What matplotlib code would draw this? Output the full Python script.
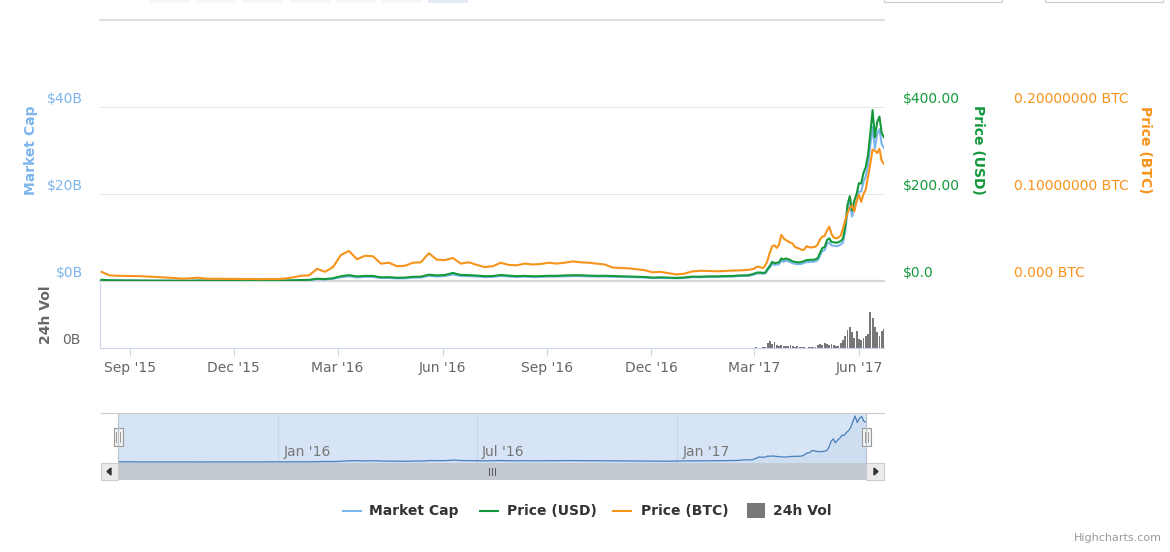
import numpy as np
import pandas as pd

import matplotlib
matplotlib.use('Agg')
import matplotlib.pyplot as plt
import matplotlib.dates as mdates
import matplotlib.transforms as mtrans
from matplotlib.patches import Rectangle, Polygon
from matplotlib.lines import Line2D

W, H = 1170, 552

# weekly samples, 7 Aug 2015 .. 24 Feb 2017
early_usd = [2.80, 1.80, 1.45, 1.25, 1.30, 1.00, 0.90, 0.80, 0.70, 0.62,
             0.55, 0.60, 1.05, 0.95, 0.92, 0.95, 0.90, 0.85, 0.88, 0.92,
             0.88, 0.95, 0.98, 1.25, 1.65, 2.40, 2.55, 5.20, 4.40, 6.40,
             11.0, 13.5, 10.5, 11.8, 11.6, 8.5, 8.8, 7.5, 7.8, 9.6,
             10.0, 14.5, 12.8, 13.8, 18.5, 14.0, 13.5, 12.5, 11.0, 11.4,
             13.8, 12.5, 11.0, 11.8, 10.9, 11.1, 12.0, 11.9, 12.8, 13.2,
             13.2, 12.4, 11.9, 12.0, 11.5, 10.9, 10.3, 9.8, 9.2, 7.8,
             8.3, 7.7, 7.2, 8.0, 10.0, 9.8, 10.6, 10.6, 11.2, 11.5,
             12.8, 13.2]
early_btc = [0.0105, 0.0065, 0.0060, 0.0058, 0.0055, 0.0055, 0.0050, 0.0045, 0.0040, 0.0035,
             0.0027, 0.0030, 0.0038, 0.0028, 0.0025, 0.0026, 0.0024, 0.0024, 0.0022, 0.0023,
             0.0021, 0.0023, 0.0022, 0.0028, 0.0042, 0.0060, 0.0065, 0.0140, 0.0105, 0.0160,
             0.0300, 0.0345, 0.0250, 0.0290, 0.0285, 0.0200, 0.0210, 0.0170, 0.0175, 0.0210,
             0.0215, 0.0320, 0.0245, 0.0240, 0.0265, 0.0200, 0.0215, 0.0185, 0.0160, 0.0170,
             0.0210, 0.0185, 0.0180, 0.0200, 0.0190, 0.0195, 0.0210, 0.0200, 0.0210, 0.0225,
             0.0215, 0.0210, 0.0200, 0.0190, 0.0155, 0.0150, 0.0145, 0.0135, 0.0125, 0.0100,
             0.0105, 0.0090, 0.0075, 0.0085, 0.0110, 0.0118, 0.0115, 0.0112, 0.0115, 0.0120,
             0.0122, 0.0128]
early_cap = [0.202, 0.131, 0.105, 0.091, 0.095, 0.074, 0.066, 0.059, 0.052, 0.046,
             0.041, 0.045, 0.079, 0.072, 0.070, 0.072, 0.069, 0.065, 0.067, 0.071,
             0.068, 0.074, 0.076, 0.097, 0.129, 0.188, 0.200, 0.409, 0.347, 0.506,
             0.871, 1.072, 0.836, 0.942, 0.928, 0.682, 0.708, 0.605, 0.630, 0.778,
             0.812, 1.180, 1.044, 1.129, 1.517, 1.151, 1.112, 1.033, 0.911, 0.946,
             1.148, 1.043, 0.920, 0.989, 0.916, 0.935, 1.013, 1.007, 1.085, 1.122,
             1.125, 1.059, 1.019, 1.030, 0.989, 0.940, 0.890, 0.849, 0.799, 0.679,
             0.724, 0.673, 0.631, 0.702, 0.880, 0.864, 0.937, 0.939, 0.995, 1.024,
             1.142, 1.180]

# every second day, 1 Mar 2017 .. 23 Jun 2017
late_usd = [16.5, 19.0, 19.5, 19.5, 18.5, 19.5, 28.0, 35.0, 44.0, 41.0,
            42.0, 43.0, 52.0, 49.0, 52.0, 50.0, 48.0, 45.0, 44.0, 43.0,
            43.0, 44.0, 46.0, 48.0, 48.0, 49.0, 48.5, 50.0, 53.0, 65.0,
            76.0, 78.0, 94.0, 98.0, 90.0, 89.0, 88.0, 89.0, 92.0, 97.0,
            125.0, 175.0, 195.0, 162.0, 185.0, 200.0, 225.0, 224.0, 248.0, 262.0,
            290.0, 340.0, 393.0, 330.0, 365.0, 378.0, 340.0, 330.0]
late_btc = [0.0140, 0.0160, 0.0165, 0.0155, 0.0150, 0.0180, 0.0240, 0.0330, 0.0400, 0.0410,
            0.0380, 0.0420, 0.0530, 0.0490, 0.0470, 0.0455, 0.0440, 0.0430, 0.0390, 0.0380,
            0.0370, 0.0356, 0.0360, 0.0400, 0.0390, 0.0385, 0.0390, 0.0395, 0.0420, 0.0480,
            0.0510, 0.0520, 0.0580, 0.0625, 0.0540, 0.0500, 0.0490, 0.0500, 0.0520, 0.0600,
            0.0700, 0.0780, 0.0840, 0.0870, 0.0800, 0.0920, 0.0990, 0.0910, 0.1000, 0.1050,
            0.1200, 0.1350, 0.1510, 0.1500, 0.1470, 0.1520, 0.1380, 0.1350]
late_cap = [1.48, 1.70, 1.75, 1.75, 1.66, 1.75, 2.51, 3.14, 3.95, 3.68,
            3.77, 3.86, 4.68, 4.41, 4.68, 4.50, 4.33, 4.06, 3.97, 3.88,
            3.88, 3.97, 4.15, 4.34, 4.34, 4.43, 4.39, 4.53, 4.80, 5.89,
            6.89, 7.08, 8.53, 8.90, 8.18, 8.09, 8.01, 8.10, 8.38, 8.84,
            11.40, 15.97, 17.81, 14.80, 16.91, 18.30, 20.61, 20.53, 22.75, 24.05,
            26.65, 31.28, 35.40, 30.42, 33.69, 34.92, 31.45, 30.55]
late_vol = [0.03, 0.04, 0.03, 0.03, 0.04, 0.05, 0.35, 0.55, 0.30, 0.45,
            0.20, 0.15, 0.25, 0.15, 0.18, 0.12, 0.20, 0.12, 0.10, 0.15,
            0.08, 0.05, 0.04, 0.03, 0.06, 0.04, 0.04, 0.05, 0.25, 0.30,
            0.20, 0.35, 0.30, 0.25, 0.30, 0.20, 0.15, 0.18, 0.35, 0.60,
            0.90, 1.40, 1.60, 1.20, 0.80, 1.30, 0.70, 0.60, 0.80, 0.90,
            1.10, 2.80, 2.30, 1.60, 1.20, 0.90, 1.30, 1.50]

early_dates = pd.date_range('2015-08-07', periods=len(early_usd), freq='7D')
late_dates = pd.date_range('2017-03-01', periods=len(late_usd), freq='2D')
dates = early_dates.append(late_dates)
usd = np.array(early_usd + late_usd)
btc = np.array(early_btc + late_btc)
cap = np.array(early_cap + late_cap)

CAP_C = '#7cb5ec'
USD_C = '#13993c'
BTC_C = '#f7931a'
VOL_C = '#777777'
AXIS_C = '#ccd6eb'

plt.rcParams['font.family'] = 'DejaVu Sans'
fig = plt.figure(figsize=(W / 100, H / 100), dpi=100)


def box(x0, y0, x1, y1):
    return [x0 / W, 1 - y1 / H, (x1 - x0) / W, (y1 - y0) / H]


def rect(x0, y0, x1, y1, **kw):
    fig.add_artist(Rectangle((x0 / W, 1 - y1 / H), (x1 - x0) / W, (y1 - y0) / H,
                             transform=fig.transFigure, **kw))


def hline(x0, x1, y, **kw):
    fig.add_artist(Line2D([x0 / W, x1 / W], [1 - y / H] * 2, transform=fig.transFigure, **kw))


def vline(x, y0, y1, **kw):
    fig.add_artist(Line2D([x / W] * 2, [1 - y0 / H, 1 - y1 / H], transform=fig.transFigure, **kw))


def strip(a):
    for s in a.spines.values():
        s.set_visible(False)
    a.set_xticks([])
    a.set_yticks([])
    a.patch.set_alpha(0)


xmin = dates[0] - pd.Timedelta(days=1.3)
xmax = dates[-1]

# ---- main pane
ax = fig.add_axes(box(100, 18, 884, 281))
ax_usd = ax.twinx()
ax_btc = ax.twinx()
for a in (ax, ax_usd, ax_btc):
    strip(a)
    a.set_xlim(xmin, xmax)
ax.set_ylim(0, 60.46)
ax_usd.set_ylim(0, 604.6)
ax_btc.set_ylim(0, 0.3023)

for v in (20, 40):
    ax.axhline(v, color='#e6e6e6', lw=0.8, zorder=0)
ax.axhline(60, color='#d8d8d8', lw=1.2, zorder=0, clip_on=False)
ax.axhline(0, color='#d8d8d8', lw=1.6, zorder=0, clip_on=False)

ax.plot(dates, cap, color=CAP_C, lw=1.5, solid_joinstyle='round')
ax_usd.plot(dates, usd, color=USD_C, lw=1.5, solid_joinstyle='round')
ax_btc.plot(dates, btc, color=BTC_C, lw=1.5, solid_joinstyle='round')

# y-axis labels, sitting a few pixels above their gridlines
def ylabels(a, xpx, vals, texts, color, ha):
    tr = mtrans.blended_transform_factory(fig.transFigure, a.transData)
    tr = mtrans.offset_copy(tr, fig=fig, y=8, units='dots')
    for v, t in zip(vals, texts):
        a.text(xpx / W, v, t, transform=tr, ha=ha, va='center', color=color,
               fontsize=10, clip_on=False)

ylabels(ax, 83, [0, 20, 40], ['$0B', '$20B', '$40B'], CAP_C, 'right')
ylabels(ax_usd, 903, [0, 200, 400], ['$0.0', '$200.00', '$400.00'], USD_C, 'left')
ylabels(ax_btc, 1014, [0, 0.1, 0.2], ['0.000 BTC', '0.10000000 BTC', '0.20000000 BTC'],
        BTC_C, 'left')

fig.text(31 / W, 1 - 150 / H, 'Market Cap', rotation=90, ha='center', va='center',
         color=CAP_C, weight='bold', fontsize=10)
fig.text(978 / W, 1 - 150 / H, 'Price (USD)', rotation=270, ha='center', va='center',
         color=USD_C, weight='bold', fontsize=10)
fig.text(1145 / W, 1 - 150 / H, 'Price (BTC)', rotation=270, ha='center', va='center',
         color=BTC_C, weight='bold', fontsize=10)

# ---- volume pane
axv = fig.add_axes(box(100, 283, 884, 348))
axv.patch.set_alpha(0)
axv.bar(late_dates, late_vol, width=1.6, color=VOL_C, linewidth=0)
axv.set_xlim(xmin, xmax)
axv.set_ylim(0, 5)
axv.set_yticks([])
for side in ('top', 'right'):
    axv.spines[side].set_visible(False)
for side in ('left', 'bottom'):
    axv.spines[side].set_color(AXIS_C)
    axv.spines[side].set_linewidth(0.8)
axv.xaxis.set_major_locator(mdates.MonthLocator(bymonth=(3, 6, 9, 12)))
axv.xaxis.set_major_formatter(mdates.DateFormatter("%b '%y"))
axv.tick_params(axis='x', length=6, width=0.8, color=AXIS_C, labelcolor='#666666',
                labelsize=10, pad=3.5)
ylabels(axv, 80, [0], ['0B'], '#666666', 'right')
fig.text(46 / W, 1 - 315 / H, '24h Vol', rotation=90, ha='center', va='center',
         color='#666666', weight='bold', fontsize=10)

# ---- navigator
rect(101, 463, 884, 480, facecolor='#f2f2f2', edgecolor='none')
nav = fig.add_axes(box(118, 413, 866, 463))
nav.set_facecolor('#d6e4f5')
for s in nav.spines.values():
    s.set_visible(False)
nav.set_xlim(dates[0], dates[-1])
nav.set_ylim(-0.75, 37.7)
nav.set_yticks([])
nav.xaxis.set_major_locator(mdates.MonthLocator(bymonth=(1, 7)))
nav.tick_params(axis='x', length=0, labelbottom=False)
nav.grid(axis='x', color='#c9d7ea', lw=0.8)
nav.fill_between(dates, cap, -1, color='#4a7ebb', alpha=0.06, lw=0)
nav.plot(dates, cap, color='#4a7ebb', lw=0.9)
ntr = mtrans.blended_transform_factory(nav.transData, fig.transFigure)
ntr = mtrans.offset_copy(ntr, fig=fig, x=5, units='dots')
for t in mdates.MonthLocator(bymonth=(1, 7)).tick_values(dates[0], dates[-1]):
    nav.text(t, 1 - 452 / H, mdates.num2date(t).strftime("%b '%y"), transform=ntr,
             ha='left', va='center', color='#777777', fontsize=10)

hline(101, 884, 413, color='#cccccc', lw=0.8)
vline(118, 413, 463, color='#b8c2cc', lw=0.8)
vline(866, 413, 463, color='#b8c2cc', lw=0.8)

# scrollbar thumb, buttons, handles
rect(118, 463, 866, 480, facecolor='#c3c9d1', edgecolor='none')
for x in (489, 492, 495):
    vline(x, 468, 475, color='#555555', lw=0.7)
for x0, x1 in ((101, 118), (866, 884)):
    rect(x0, 463, x1, 480, facecolor='#ebebeb', edgecolor='#cccccc', lw=0.8)
fig.add_artist(Polygon([(111 / W, 1 - 468 / H), (111 / W, 1 - 475 / H), (107 / W, 1 - 471.5 / H)],
                       closed=True, transform=fig.transFigure, color='#333333'))
fig.add_artist(Polygon([(874 / W, 1 - 468 / H), (874 / W, 1 - 475 / H), (878 / W, 1 - 471.5 / H)],
                       closed=True, transform=fig.transFigure, color='#333333'))
for xc in (118, 866):
    rect(xc - 4.5, 428, xc + 4.5, 446, facecolor='#f2f2f2', edgecolor='#999999', lw=0.8)
    vline(xc - 1.5, 432, 442, color='#999999', lw=0.7)
    vline(xc + 1.5, 432, 442, color='#999999', lw=0.7)

# ---- range selector remnants at the very top
for x0 in (150, 196, 242, 290, 336, 382):
    rect(x0, 0, x0 + 40, 3, facecolor='#f7f7f7', edgecolor='none')
rect(428, 0, 468, 3, facecolor='#e6ebf5', edgecolor='none')
for x0, x1 in ((884, 1002), (1045, 1163)):
    rect(x0, -2, x1, 2, facecolor='white', edgecolor='#cccccc', lw=0.8)

# ---- legend
ly = 511
legend_items = [('Market Cap', CAP_C, 343, 369), ('Price (USD)', USD_C, 480, 507),
                ('Price (BTC)', BTC_C, 613, 641)]
for label, color, sx, tx in legend_items:
    hline(sx, sx + 18, ly, color=color, lw=1.5)
    fig.text(tx / W, 1 - ly / H, label, ha='left', va='center', color='#333333',
             weight='bold', fontsize=10)
rect(747, 503, 765, 518, facecolor=VOL_C, edgecolor='none')
fig.text(773 / W, 1 - ly / H, '24h Vol', ha='left', va='center', color='#333333',
         weight='bold', fontsize=10)

fig.text(1162 / W, 1 - 538 / H, 'Highcharts.com', ha='right', va='center',
         color='#999999', fontsize=8)

fig.savefig('out.png', dpi=100)
plt.close(fig)
